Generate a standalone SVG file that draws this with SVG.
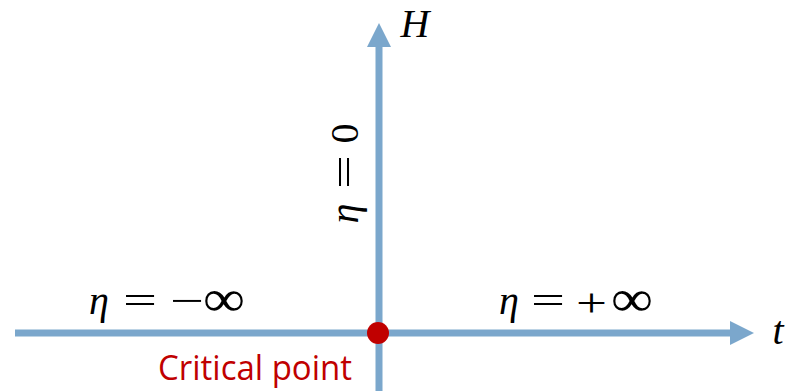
<svg xmlns="http://www.w3.org/2000/svg" width="788" height="391" viewBox="0 0 788 391">
<style>
.ax{stroke:#7BA7CC;stroke-width:7;fill:none}
.m{font-family:"Liberation Serif","DejaVu Serif",serif;font-style:italic;font-size:40px;fill:#000}
.o{font-family:"Liberation Serif","DejaVu Serif",serif;font-size:40px;fill:#000}
.inf{font-family:"Liberation Serif","DejaVu Serif",serif;font-size:52px;fill:#000}
.red{font-family:"Open Sans","Liberation Sans",sans-serif;font-size:34px;fill:#C00000}
</style>
<defs>
<marker id="ah" markerUnits="userSpaceOnUse" markerWidth="24" markerHeight="24" refX="0" refY="12" orient="auto">
<path d="M0,0 L24,12 L0,24 z" fill="#7BA7CC"/>
</marker>
</defs>
<g id="connectors">
<line class="ax" x1="15" y1="333" x2="730" y2="333" marker-end="url(#ah)"/>
<line class="ax" x1="379" y1="391" x2="379" y2="47" marker-end="url(#ah)"/>
</g>
<g id="critical-point">
<circle cx="378" cy="333" r="11" fill="#C00000"/>
<text class="red" x="158" y="380" textLength="194" lengthAdjust="spacingAndGlyphs">Critical point</text>
</g>
<g id="label-H"><text class="m" x="415" y="37" text-anchor="middle" font-size="42">H</text></g>
<g id="label-t"><text class="m" x="778" y="344" text-anchor="middle">t</text></g>
<g id="label-neg">
<text class="m" x="99" y="314" text-anchor="middle">η</text>
<text class="o" x="123" y="314" textLength="34" lengthAdjust="spacingAndGlyphs">=</text>
<text class="o" x="170" y="314" textLength="34" lengthAdjust="spacingAndGlyphs">−</text>
<text class="inf" x="203" y="316" textLength="42" lengthAdjust="spacingAndGlyphs">∞</text>
</g>
<g id="label-pos">
<text class="m" x="509" y="314" text-anchor="middle">η</text>
<text class="o" x="531" y="314" textLength="34" lengthAdjust="spacingAndGlyphs">=</text>
<text class="o" x="576" y="316" font-size="52" textLength="31" lengthAdjust="spacingAndGlyphs">+</text>
<text class="inf" x="611" y="316" textLength="42" lengthAdjust="spacingAndGlyphs">∞</text>
</g>
<g id="label-zero" transform="translate(358,226) rotate(-90)">
<text class="m" x="12.5" y="0" text-anchor="middle">η</text>
<text class="o" x="37" y="0" textLength="34" lengthAdjust="spacingAndGlyphs">=</text>
<text class="o" x="92.5" y="0" text-anchor="middle">0</text>
</g>
</svg>
